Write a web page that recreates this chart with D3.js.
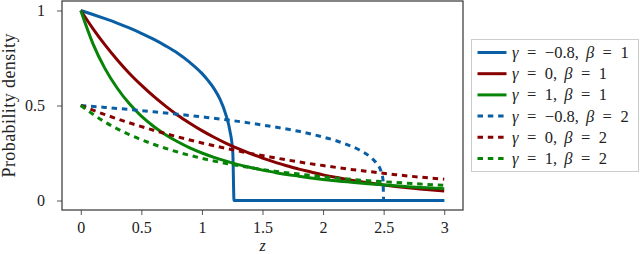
<!DOCTYPE html>
<html>
<head>
<meta charset="utf-8">
<script src="https://cdn.jsdelivr.net/npm/d3@7"></script>
<style>
  body { margin: 0; background: #fff; }
  svg text { fill: #222; }
</style>
</head>
<body>
<div id="chart"></div>
<script>
// z grids
var zFine = [0, 0.1, 0.2, 0.3, 0.4, 0.5, 0.6, 0.7, 0.8, 0.9, 1, 1.1, 1.2, 1.3, 1.4, 1.5,
  1.6, 1.7, 1.8, 1.9, 2, 2.1, 2.2, 2.3, 2.4, 2.5, 2.6, 2.7, 2.8, 2.9, 3];
var zCoarse = [0, 0.2, 0.4, 0.6, 0.8, 1, 1.2, 1.4, 1.6, 1.8, 2, 2.2, 2.4, 2.6, 2.8, 3];
var zNeg1 = [0, 0.1, 0.2, 0.3, 0.4, 0.5, 0.6, 0.7, 0.8, 0.9, 1, 1.05, 1.1, 1.15, 1.2, 1.23, 1.255, 1.265, 3];
var zNeg2 = [0, 0.2, 0.4, 0.6, 0.8, 1, 1.2, 1.4, 1.6, 1.8, 2, 2.1, 2.2, 2.3, 2.4, 2.44, 2.48, 2.495, 2.5, 3];

// densities
var gNeg08b1 = [1, 0.979, 0.957, 0.934, 0.908, 0.880, 0.849, 0.814, 0.775, 0.727, 0.669,
  0.632, 0.589, 0.532, 0.447, 0.37, 0.25, 0, 0];
var g0b1 = [1, 0.905, 0.819, 0.741, 0.670, 0.607, 0.549, 0.497, 0.449, 0.407, 0.368, 0.333,
  0.301, 0.273, 0.247, 0.223, 0.202, 0.183, 0.165, 0.150, 0.135, 0.122, 0.111, 0.100,
  0.091, 0.082, 0.074, 0.067, 0.061, 0.055, 0.050];
var g1b1 = [1, 0.826, 0.694, 0.592, 0.510, 0.444, 0.391, 0.346, 0.309, 0.277, 0.25, 0.227,
  0.207, 0.189, 0.174, 0.16, 0.148, 0.137, 0.128, 0.119, 0.111, 0.104, 0.098, 0.092,
  0.087, 0.082, 0.077, 0.073, 0.069, 0.066, 0.0625];
var gNeg08b2 = [0.5, 0.490, 0.479, 0.467, 0.454, 0.440, 0.425, 0.407, 0.387, 0.364, 0.334,
  0.316, 0.294, 0.266, 0.224, 0.197, 0.150, 0.106, 0, 0];
var g0b2 = [0.5, 0.452, 0.409, 0.370, 0.335, 0.303, 0.274, 0.248, 0.225, 0.203, 0.184,
  0.166, 0.151, 0.136, 0.123, 0.112];
var g1b2 = [0.5, 0.413, 0.347, 0.296, 0.255, 0.222, 0.195, 0.173, 0.154, 0.139, 0.125,
  0.113, 0.103, 0.095, 0.087, 0.08];

var xTicks = [0, 0.5, 1, 1.5, 2, 2.5, 3];
var yTicks = [0, 0.5, 1];

var series = [
  { g: "\u22120.8", b: "1", z: zNeg1, v: gNeg08b1, color: "#0a5fa4", dash: null },
  { g: "0", b: "1", z: zFine, v: g0b1, color: "#870000", dash: null },
  { g: "1", b: "1", z: zFine, v: g1b1, color: "#078407", dash: null },
  { g: "\u22120.8", b: "2", z: zNeg2, v: gNeg08b2, color: "#0a5fa4", dash: "5.5,4.8" },
  { g: "0", b: "2", z: zCoarse, v: g0b2, color: "#870000", dash: "5.5,4.8" },
  { g: "1", b: "2", z: zCoarse, v: g1b2, color: "#078407", dash: "5.5,4.8" }
];

var serif = "'Liberation Serif', 'DejaVu Serif', serif";

var width = 640;
var height = 254;
var margin = { top: 1, right: 177, bottom: 44, left: 62 };

var svg = d3.select("#chart").append("svg")
  .attr("width", width)
  .attr("height", height)
  .attr("font-family", serif);

var xScale = d3.scaleLinear([-0.155, 3.155], [margin.left, width - margin.right]);
var yScale = d3.scaleLinear([-0.05, 1.05], [height - margin.bottom, margin.top]);

// axes
svg.append("g")
  .attr("transform", "translate(0," + (height - margin.bottom) + ")")
  .call(d3.axisBottom(xScale).tickValues(xTicks).tickSize(5).tickPadding(7).tickSizeOuter(0)
    .tickFormat(d3.format("")))
  .attr("font-family", serif)
  .attr("font-size", 16)
  .call(function (g) {
    g.select(".domain").remove();
    g.selectAll("line").attr("stroke", "#555");
  });

svg.append("g")
  .attr("transform", "translate(" + margin.left + ",0)")
  .call(d3.axisLeft(yScale).tickValues(yTicks).tickSize(5).tickPadding(12).tickSizeOuter(0)
    .tickFormat(d3.format("")))
  .attr("font-family", serif)
  .attr("font-size", 16)
  .call(function (g) {
    g.select(".domain").remove();
    g.selectAll("line").attr("stroke", "#555");
  });

// plot frame
svg.append("rect")
  .attr("x", margin.left)
  .attr("y", margin.top)
  .attr("width", width - margin.right - margin.left)
  .attr("height", height - margin.bottom - margin.top)
  .attr("fill", "none")
  .attr("stroke", "#333")
  .attr("stroke-width", 1.2);

var line = d3.line()
  .x(function (d) { return xScale(d[0]); })
  .y(function (d) { return yScale(d[1]); })
  .curve(d3.curveMonotoneX);

svg.append("g")
  .selectAll("path")
  .data(series)
  .join("path")
  .attr("d", function (s) {
    return line(s.z.map(function (z, i) { return [z, s.v[i]]; }));
  })
  .attr("fill", "none")
  .attr("stroke", function (s) { return s.color; })
  .attr("stroke-width", 3)
  .attr("stroke-dasharray", function (s) { return s.dash; });

// axis titles
svg.append("text")
  .attr("x", xScale(1.5))
  .attr("y", 251)
  .attr("text-anchor", "middle")
  .attr("font-size", 16)
  .attr("font-style", "italic")
  .text("z");

svg.append("text")
  .attr("transform", "translate(15," + yScale(0.5) + ") rotate(-90)")
  .attr("text-anchor", "middle")
  .attr("font-size", 18)
  .attr("textLength", 144)
  .attr("lengthAdjust", "spacing")
  .text("Probability density");

// legend
var legend = svg.append("g");
legend.append("rect")
  .attr("x", 471.5)
  .attr("y", 39.5)
  .attr("width", 167)
  .attr("height", 132)
  .attr("fill", "#fff")
  .attr("stroke", "#ccc");

var rows = legend.selectAll("g")
  .data(series)
  .join("g")
  .attr("transform", function (s, i) { return "translate(0," + (52.5 + i * 21.2) + ")"; });

rows.append("line")
  .attr("x1", 477.5)
  .attr("x2", 506.5)
  .attr("stroke", function (s) { return s.color; })
  .attr("stroke-width", 3)
  .attr("stroke-dasharray", function (s) { return s.dash; });

// math-like spacing around "=" and after the comma
var label = rows.append("text")
  .attr("x", 512)
  .attr("y", 5.5)
  .attr("font-size", 16.5);
label.append("tspan").attr("font-style", "italic").text("\u03b3");
label.append("tspan").attr("dx", 8.5).text("=");
label.append("tspan").attr("dx", 8.5).text(function (s) { return s.g + ","; });
label.append("tspan").attr("dx", 7).attr("font-style", "italic").text("\u03b2");
label.append("tspan").attr("dx", 8.5).text("=");
label.append("tspan").attr("dx", 8.5).text(function (s) { return s.b; });
</script>
</body>
</html>
